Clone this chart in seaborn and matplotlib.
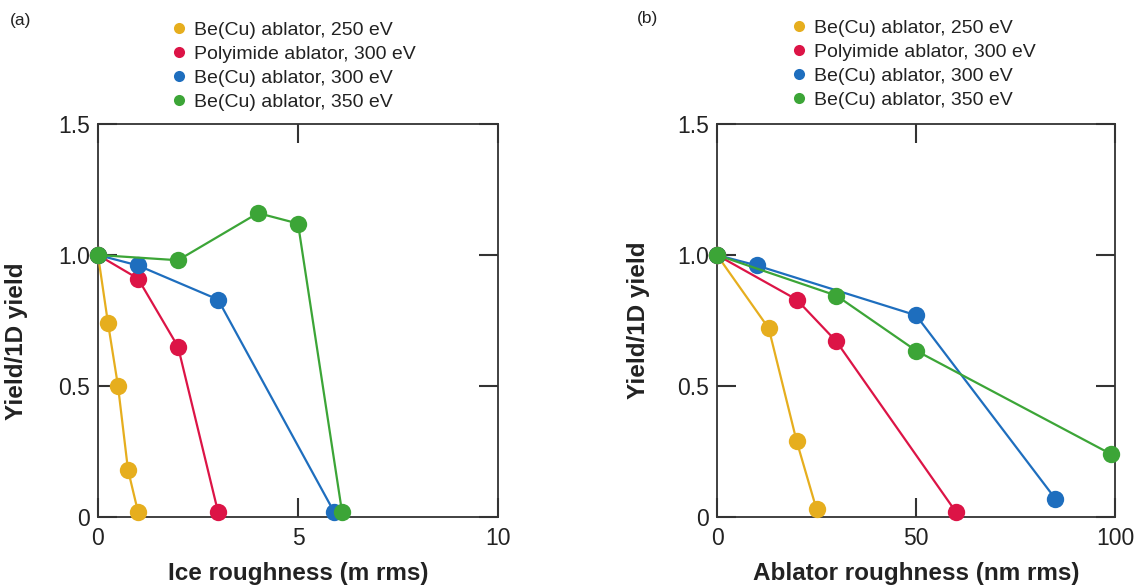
import numpy as np
import pandas as pd
import seaborn as sns
import matplotlib
matplotlib.use("Agg")
import matplotlib.pyplot as plt
from matplotlib.lines import Line2D

# ---- data ----
series_names = ["Be(Cu) ablator, 250 eV", "Polyimide ablator, 300 eV",
                "Be(Cu) ablator, 300 eV", "Be(Cu) ablator, 350 eV"]
colors = ["#E6AE1E", "#DC1446", "#1E6EBE", "#3CA537"]

# panel (a): ice roughness (um rms)
a_be250_x = [0, 0.25, 0.5, 0.75, 1.0]
a_be250_y = [1.0, 0.74, 0.50, 0.18, 0.02]
a_poly300_x = [0, 1.0, 2.0, 3.0]
a_poly300_y = [1.0, 0.91, 0.65, 0.02]
a_be300_x = [0, 1.0, 3.0, 5.9]
a_be300_y = [1.0, 0.96, 0.83, 0.02]
a_be350_x = [0, 2.0, 4.0, 5.0, 6.1]
a_be350_y = [1.0, 0.98, 1.16, 1.12, 0.02]

# panel (b): ablator roughness (nm rms)
b_be250_x = [0, 13, 20, 25]
b_be250_y = [1.0, 0.72, 0.29, 0.03]
b_poly300_x = [0, 20, 30, 60]
b_poly300_y = [1.0, 0.83, 0.67, 0.02]
b_be300_x = [0, 10, 50, 85]
b_be300_y = [1.0, 0.96, 0.77, 0.07]
b_be350_x = [0, 30, 50, 99]
b_be350_y = [1.0, 0.845, 0.635, 0.24]

y_ticks = [0, 0.5, 1.0, 1.5]
y_ticklabels = ["0", "0.5", "1.0", "1.5"]
a_xticks = [0, 5, 10]
b_xticks = [0, 50, 100]


def build(xs, ys):
    rows = []
    for name, x, y in zip(series_names, xs, ys):
        for xi, yi in zip(x, y):
            rows.append({"series": name, "x": xi, "y": yi})
    return pd.DataFrame(rows)


df_a = build([a_be250_x, a_poly300_x, a_be300_x, a_be350_x],
             [a_be250_y, a_poly300_y, a_be300_y, a_be350_y])
df_b = build([b_be250_x, b_poly300_x, b_be300_x, b_be350_x],
             [b_be250_y, b_poly300_y, b_be300_y, b_be350_y])

sns.set_theme(style="white")
plt.rcParams['font.family'] = ['Liberation Sans', 'DejaVu Sans']

fig = plt.figure(figsize=(11.36, 5.86), dpi=100)
W, H = 1136, 586
ax_a = fig.add_axes([98 / W, (H - 517) / H, 400 / W, 393 / H])
ax_b = fig.add_axes([717 / W, (H - 517) / H, 398 / W, 393 / H])

palette = dict(zip(series_names, colors))
spine_col = "#333333"
text_col = "#222222"

for ax, df, xticks, xmax, xlabel in [
        (ax_a, df_a, a_xticks, 10, "Ice roughness (m rms)"),
        (ax_b, df_b, b_xticks, 100, "Ablator roughness (nm rms)")]:
    sns.lineplot(data=df, x="x", y="y", hue="series", hue_order=series_names,
                 palette=palette, marker="o", markersize=12.5,
                 markeredgewidth=0, linewidth=1.6, sort=False,
                 estimator=None, legend=False, ax=ax, clip_on=False, zorder=3)
    ax.set_xlim(0, xmax)
    ax.set_ylim(0, 1.5)
    ax.set_xticks(xticks)
    ax.set_xticklabels([str(t) for t in xticks])
    ax.set_yticks(y_ticks)
    ax.set_yticklabels(y_ticklabels)
    ax.tick_params(axis="both", direction="in", length=14, width=1.5,
                   color=spine_col, labelsize=16.5, labelcolor=text_col,
                   top=True, right=True, bottom=True, left=True)
    ax.tick_params(axis="x", pad=7)
    ax.tick_params(axis="y", pad=6)
    for s in ax.spines.values():
        s.set_color(spine_col)
        s.set_linewidth(1.3)
    ax.set_xlabel(xlabel, fontsize=17.5, fontweight="bold", color=text_col,
                  labelpad=8.5)
    ax.set_ylabel("Yield/1D yield", fontsize=17.5, fontweight="bold",
                  color=text_col)
    ax.grid(False)

ax_a.yaxis.set_label_coords(-0.175, 0.448)
ax_b.yaxis.set_label_coords(-0.168, 0.50)

handles = [Line2D([], [], marker="o", linestyle="none", markersize=8,
                  markerfacecolor=c, markeredgewidth=0) for c in colors]

for x0, y0 in [(173 / W, 1 - 21 / H), (793 / W, 1 - 19 / H)]:
    fig.legend(handles, series_names, loc="upper left",
               bbox_to_anchor=(x0, y0), frameon=False, fontsize=14,
               handlelength=0.6, handletextpad=0.5, labelspacing=0.33,
               borderaxespad=0, borderpad=0, labelcolor=text_col)

fig.text(10 / W, 1 - 20 / H, "(a)", fontsize=12.5, color=text_col, va="center")
fig.text(637 / W, 1 - 18 / H, "(b)", fontsize=12.5, color=text_col, va="center")

fig.savefig("out.png", dpi=100)
